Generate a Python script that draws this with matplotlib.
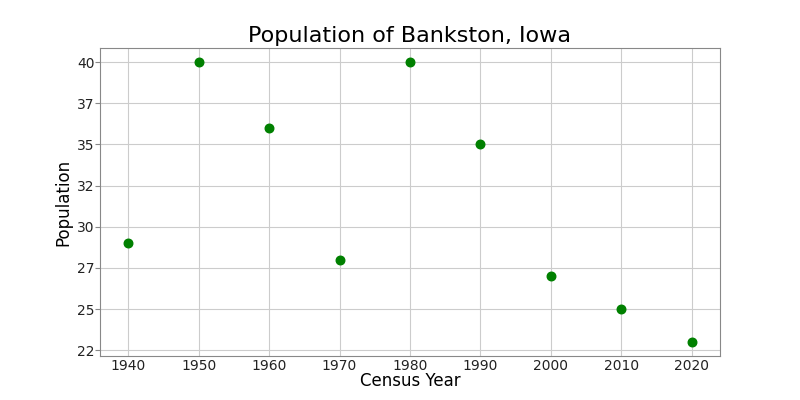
import matplotlib
matplotlib.use("Agg")
import matplotlib.pyplot as plt
from matplotlib.ticker import FuncFormatter, MultipleLocator

years = [1940, 1950, 1960, 1970, 1980, 1990, 2000, 2010, 2020]
population = [29, 40, 36, 28, 40, 35, 27, 25, 23]

fig, ax = plt.subplots(figsize=(8, 4), dpi=100)
ax.scatter(years, population, color="green", s=38, zorder=3)

ax.set_title("Population of Bankston, Iowa", fontsize=16, pad=4)
ax.set_xlabel("Census Year", fontsize=12, labelpad=-1)
ax.set_ylabel("Population", fontsize=12, labelpad=3)
ax.yaxis.set_major_locator(MultipleLocator(2.5))
ax.yaxis.set_major_formatter(FuncFormatter(lambda v, _: f"{int(v)}"))
ax.xaxis.set_major_locator(MultipleLocator(10))
ax.grid(True, color="#cccccc", linewidth=0.8)
ax.set_axisbelow(True)
for sp in ax.spines.values():
    sp.set_color("#888888")
ax.tick_params(colors="#222222", labelsize=10)
ax.tick_params(axis="x", length=0, pad=2.5)
ax.tick_params(axis="y", length=3.5, pad=0.5, color="#888888")

fig.savefig("out.png", dpi=100)
